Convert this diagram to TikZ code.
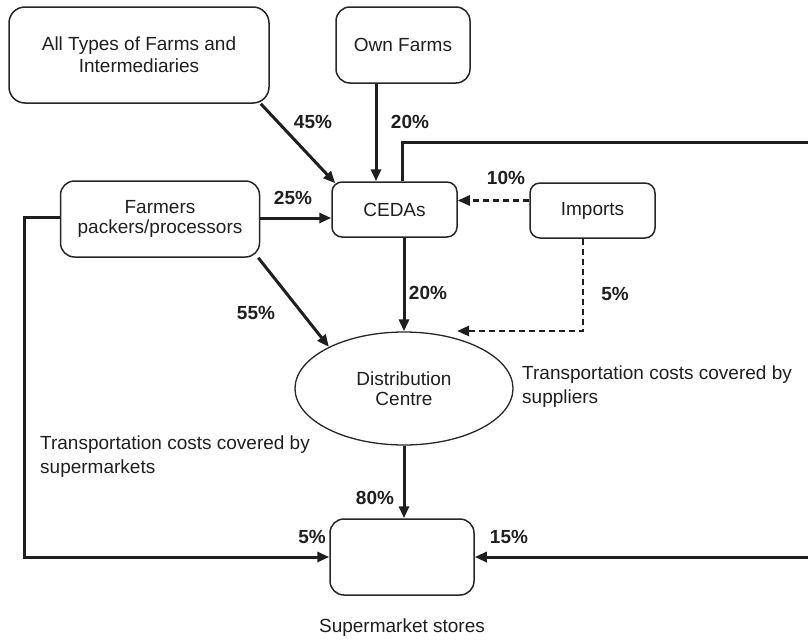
\documentclass[tikz,border=0pt]{standalone}
\usepackage{fontspec}
\setmainfont{Liberation Sans}
\usetikzlibrary{arrows.meta,shapes.geometric}
\begin{document}
\begin{tikzpicture}[x=1pt,y=-1pt,
  box/.style={draw=black!85,line width=1.5pt,rounded corners=#1,inner sep=0pt,align=center,font=\fontsize{19}{22}\selectfont,text=black!88},
  box/.default=12pt,
  flow/.style={draw=black!88,line width=3pt,-{Triangle[length=12pt,width=10pt]}},
  dflow/.style={draw=black!88,line width=2.5pt,dash pattern=on 6pt off 4pt,-{Triangle[length=12pt,width=10pt]}},
  pct/.style={font=\fontsize{19}{22}\selectfont\bfseries,inner sep=0pt,text=black!88},
  note/.style={font=\fontsize{19}{24}\selectfont,inner sep=0pt,align=left,text=black!88}]
\useasboundingbox (0,0) rectangle (808,640);
% nodes
\node[box=16pt,minimum width=260pt,minimum height=96pt] (alltypes) at (139,55) {All Types of Farms and\\Intermediaries};
\node[box=14pt,minimum width=134pt,minimum height=76pt] (own) at (403,45) {Own Farms};
\node[box=10pt,minimum width=125pt,minimum height=55pt] (cedas) at (394.5,209.5) {CEDAs};
\node[box=10pt,minimum width=125pt,minimum height=55pt] (imports) at (592.5,210.5) {Imports};
\node[box=14pt,minimum width=199pt,minimum height=76pt,font=\fontsize{19}{20}\selectfont] (farmers) at (160,219) {Farmers\\packers/processors};
\node[draw=black!85,line width=1.3pt,ellipse,minimum width=218pt,minimum height=113pt,inner sep=0pt,align=center,font=\fontsize{19}{20}\selectfont,text=black!88] (dc) at (404,388.5) {Distribution\\Centre};
\node[box=14pt,minimum width=144pt,minimum height=76pt] (super) at (402,557) {};
\node[font=\fontsize{19}{22}\selectfont,inner sep=0pt,text=black!88] (superlbl) at (402,628) {Supermarket stores};
\coordinate (dcin) at (457,331);
\coordinate (rc) at (811,142);
% connectors
\draw[flow] ([xshift=-9pt]alltypes.south east) -- ([xshift=4pt,yshift=-2pt]cedas.north west);
\draw[flow] ([xshift=-27pt]own.south) -- ([xshift=-27pt]own.south |- cedas.north);
\draw[flow] (farmers.east |- 0,218) -- (cedas.west |- 0,218);
\draw[flow] ([xshift=-2pt]farmers.south east) -- (dc.151);
\draw[flow] (dc.north |- cedas.south) -- (dc.north);
\draw[dflow] ([yshift=10pt]imports.west) -- ([yshift=10pt]imports.west -| cedas.east);
\draw[dflow] ([xshift=-9.5pt]imports.south) |- (dcin);
\draw[flow] (dc.south) -- (dc.south |- super.north);
\draw[flow] (farmers.west |- 0,217) -| (24,557) -- (super.west);
\draw[flow] ([xshift=8pt]cedas.north) |- (rc) |- (super.east);
% labels
\node[pct] at (313,122) {45\%};
\node[pct] at (410,122) {20\%};
\node[pct] at (293,198) {25\%};
\node[pct] at (506,178) {10\%};
\node[pct] at (428,293) {20\%};
\node[pct] at (615,294) {5\%};
\node[pct] at (256,313) {55\%};
\node[pct] at (375,498) {80\%};
\node[pct] at (312,537) {5\%};
\node[pct] at (509,537) {15\%};
\node[note,anchor=north west] at (522,366) {Transportation costs covered by\\suppliers};
\node[note,anchor=north west] at (40,436) {Transportation costs covered by\\supermarkets};
\end{tikzpicture}
\end{document}
